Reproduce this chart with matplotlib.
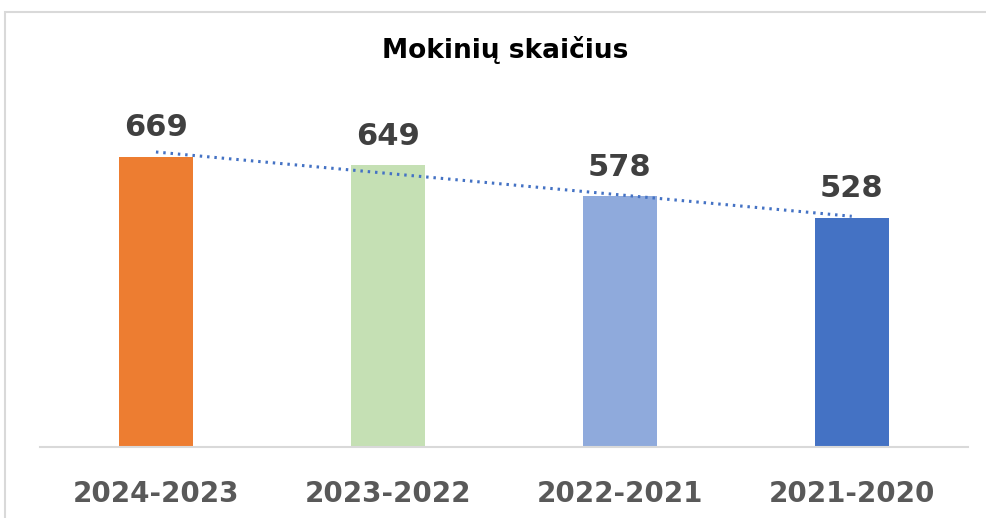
import numpy as np
import matplotlib.pyplot as plt
from matplotlib.patches import Rectangle

# duomenys
years = ["2024-2023", "2023-2022", "2022-2021", "2021-2020"]
students = [669, 649, 578, 528]
bar_colors = ["#ED7D31", "#C5E0B4", "#8FAADC", "#4472C4"]

fig = plt.figure(figsize=(9.87, 5.18), dpi=100)
ax = fig.add_axes([0.0405, 0.137, 0.940, 0.670])

x = np.arange(len(years))
ax.bar(x, students, width=0.32, color=bar_colors, zorder=2)

for xi, v in zip(x, students):
    ax.text(xi, v + 34, str(v), ha="center", va="bottom",
            fontsize=22, fontweight="bold", color="#404040")

# tiesinė tendencija
k, b = np.polyfit(x, students, 1)
ax.plot(x, k * x + b, linestyle=(0, (0.8, 1.6)), color="#4472C4",
        linewidth=2.2, zorder=3)

ax.set_xlim(-0.5, len(years) - 0.5)
ax.set_ylim(0, 800)
ax.set_xticks(x)
ax.set_xticklabels(years, fontsize=20, fontweight="bold", color="#595959")
ax.tick_params(axis="x", length=0, pad=24)
ax.set_yticks([])
for s in ["top", "right", "left"]:
    ax.spines[s].set_visible(False)
ax.spines["bottom"].set_color("#D9D9D9")
ax.spines["bottom"].set_linewidth(1.5)

fig.text(0.512, 0.903, "Mokinių skaičius", ha="center", va="center",
         fontsize=19, fontweight="bold", color="black")

# rėmelis
fig.patches.append(Rectangle((0.005, -0.1), 1.2, 1.077, transform=fig.transFigure,
                             fill=False, edgecolor="#D9D9D9", linewidth=1.5))

fig.savefig("out.png", dpi=100)
